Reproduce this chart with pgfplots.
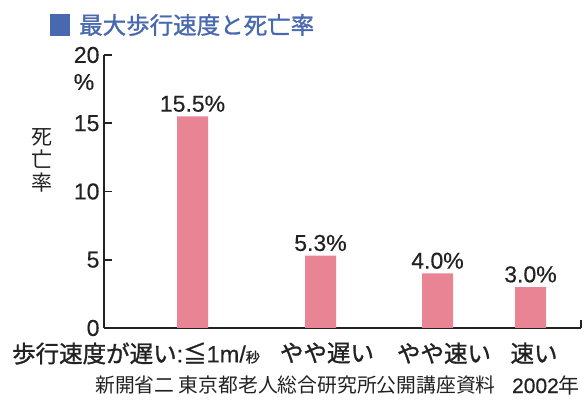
\documentclass[border=0pt]{standalone}
\usepackage{pgfplots}
\pgfplotsset{compat=1.18}
\usepackage{fontspec}
\setmainfont{Liberation Sans}[FakeBold=0.4]
\newfontfamily\jp{Noto Sans CJK JP}
\newfontfamily\jpb{Noto Sans CJK JP}[FakeBold=1.2]

\definecolor{barpink}{RGB}{232,132,148}
\definecolor{titleblue}{RGB}{72,104,176}
\definecolor{ink}{RGB}{34,34,34}

\begin{document}
\begin{tikzpicture}[x=1pt,y=1pt]
\useasboundingbox (0,0) rectangle (586,401);

% title
\fill[titleblue] (50,365) rectangle (70,387);
\node[anchor=west, text=titleblue, inner sep=0pt] at (79,376)
  {\jpb\fontsize{23.5}{28}\selectfont 最大歩行速度と死亡率};

\begin{axis}[
  at={(104pt,73pt)}, anchor=south west,
  scale only axis, width=477pt, height=273pt,
  xmin=104, xmax=581, ymin=0, ymax=20,
  axis x line=bottom, axis y line=left,
  axis line style={draw=ink, line width=1.8pt, -},
  ytick={0,5,10,15,20},
  tick align=inside,
  major tick length=8pt,
  y tick style={draw=ink, line width=1.8pt},
  x tick style={draw=none},
  xtick={136,327,444,534},
  xticklabels={
    {{\jpb 歩行速度が遅い}:{\jpb ≦}1m/{\jpb\fontsize{14}{14}\selectfont 秒}},
    {\jpb やや遅い},
    {\jpb やや速い},
    {\jpb 速い}},
  x tick label style={font=\fontsize{23.5}{26}\selectfont, text=ink, yshift=-3pt},
  y tick label style={font=\fontsize{23}{26}\selectfont, text=ink, xshift=-1pt},
  /pgf/number format/assume math mode=true,
  ybar, bar width=31pt,
  nodes near coords={\pgfmathprintnumber[fixed,fixed zerofill,precision=1]{\pgfplotspointmeta}\%},
  every node near coord/.append style={font=\fontsize{23}{26}\selectfont, text=ink, yshift=1pt},
  clip=false,
]
\addplot[fill=barpink, draw=none] coordinates {
  (192.5,15.5) (320.5,5.3) (437.5,4.0) (530.5,3.0)
};
% short upright tick closing the baseline
\draw[ink, line width=1.8pt] (axis cs:581,0) -- (axis cs:581,0.55);
\end{axis}

% unit and axis title
\node[text=ink, inner sep=0pt] at (84,319) {\fontsize{23}{26}\selectfont\%};
\node[text=ink, align=center, inner sep=0pt, font=\jp\fontsize{21}{23}\selectfont] at (42,241)
  {死\\亡\\率};

% source
\node[anchor=west, text=ink, inner sep=0pt] at (95,16)
  {\jp\fontsize{19.8}{22}\selectfont 新開省二 東京都老人総合研究所公開講座資料};
\node[anchor=east, text=ink, inner sep=0pt] at (580,16)
  {\fontsize{21}{22}\selectfont 2002{\jp 年}};
\end{tikzpicture}
\end{document}
